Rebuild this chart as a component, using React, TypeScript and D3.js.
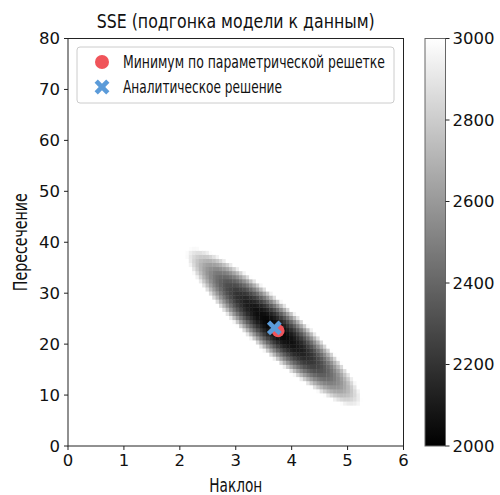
import React, { useMemo } from 'react';
import * as d3 from 'd3';

// ---- data ----
const SLOPE_DOMAIN = [0, 6];
const INTERCEPT_DOMAIN = [0, 80];
const GRID_SIZE = 100;
const X_TICKS = [0, 1, 2, 3, 4, 5, 6];
const Y_TICKS = [0, 10, 20, 30, 40, 50, 60, 70, 80];
const CBAR_TICKS = [2000, 2200, 2400, 2600, 2800, 3000];
const SSE_COLOR_RANGE = [2000, 3000];
// summary of the fitted dataset (defines the SSE surface)
const N_POINTS = 24;
const MEAN_X = 9.1;
const VAR_X = 16.2;
const SSE_MIN = 2020;
const ANALYTIC_SLOPE = 3.69;
const ANALYTIC_INTERCEPT = 23.2;
const LEGEND_LABELS = ['Минимум по параметрической решетке', 'Аналитическое решение'];
const TITLE = 'SSE (подгонка модели к данным)';
const X_LABEL = 'Наклон';
const Y_LABEL = 'Пересечение';

const W = 500;
const H = 495;
const PX0 = 68, PX1 = 403.5, PY0 = 38.5, PY1 = 446;
const CB_X0 = 425, CB_X1 = 445.5;
const RED = '#f0545a';
const BLUE = '#5b9bd9';
const CONDENSED = "'DejaVu Sans Condensed', 'Liberation Sans Narrow', sans-serif";
const TICKFONT = "'DejaVu Sans', sans-serif";

function sse(a: number, b: number) {
  const da = a - ANALYTIC_SLOPE;
  const db = b - ANALYTIC_INTERCEPT;
  const c = da * MEAN_X + db;
  return SSE_MIN + N_POINTS * (c * c + da * da * VAR_X);
}

const XMarker = ({ cx, cy }: { cx: number; cy: number }) => (
  <g transform={`translate(${cx},${cy})`} stroke={BLUE} strokeWidth={4.6}>
    <line x1={-5.8} y1={-5.8} x2={5.8} y2={5.8} />
    <line x1={-5.8} y1={5.8} x2={5.8} y2={-5.8} />
  </g>
);

export default function App() {
  const x = d3.scaleLinear().domain(SLOPE_DOMAIN).range([PX0, PX1]);
  const y = d3.scaleLinear().domain(INTERCEPT_DOMAIN).range([PY1, PY0]);
  const color = d3.scaleLinear<string>().domain(SSE_COLOR_RANGE).range(['#000000', '#ffffff']).clamp(true);
  const cb = d3.scaleLinear().domain(SSE_COLOR_RANGE).range([PY1, PY0]);

  const { cells, best } = useMemo(() => {
    const slopes = d3.range(GRID_SIZE).map(i => SLOPE_DOMAIN[0] + (i * (SLOPE_DOMAIN[1] - SLOPE_DOMAIN[0])) / (GRID_SIZE - 1));
    const ints = d3.range(GRID_SIZE).map(j => INTERCEPT_DOMAIN[0] + (j * (INTERCEPT_DOMAIN[1] - INTERCEPT_DOMAIN[0])) / (GRID_SIZE - 1));
    const cw = (SLOPE_DOMAIN[1] - SLOPE_DOMAIN[0]) / GRID_SIZE;
    const ch = (INTERCEPT_DOMAIN[1] - INTERCEPT_DOMAIN[0]) / GRID_SIZE;
    const out: { x0: number; x1: number; y0: number; y1: number; v: number }[] = [];
    let best = { v: Infinity, a: 0, b: 0 };
    slopes.forEach((a, i) => {
      ints.forEach((b, j) => {
        const v = sse(a, b);
        if (v < best.v) best = { v, a, b };
        out.push({ x0: SLOPE_DOMAIN[0] + i * cw, x1: SLOPE_DOMAIN[0] + (i + 1) * cw, y0: INTERCEPT_DOMAIN[0] + j * ch, y1: INTERCEPT_DOMAIN[0] + (j + 1) * ch, v });
      });
    });
    return { cells: out, best };
  }, []);

  return (
    <svg width={W} height={H} style={{ position: 'absolute', left: 0, top: 0, background: '#fff' }}>
      <defs>
        <linearGradient id="cbg" x1="0" y1="1" x2="0" y2="0">
          <stop offset="0" stopColor={color(SSE_COLOR_RANGE[0])} />
          <stop offset="1" stopColor={color(SSE_COLOR_RANGE[1])} />
        </linearGradient>
        <clipPath id="plotclip"><rect x={PX0} y={PY0} width={PX1 - PX0} height={PY1 - PY0} /></clipPath>
      </defs>
      <g clipPath="url(#plotclip)">
        {cells.map((c, k) => (
          <rect key={k} x={x(c.x0)} y={y(c.y1)} width={x(c.x1) - x(c.x0) + 0.4} height={y(c.y0) - y(c.y1) + 0.4} fill={color(c.v)} />
        ))}
      </g>
      {/* markers */}
      <circle cx={x(best.a)} cy={y(best.b)} r={6.5} fill={RED} />
      <XMarker cx={x(ANALYTIC_SLOPE)} cy={y(ANALYTIC_INTERCEPT)} />
      {/* frame */}
      <rect x={PX0} y={PY0} width={PX1 - PX0} height={PY1 - PY0} fill="none" stroke="#222" strokeWidth={1} />
      {/* x ticks */}
      {X_TICKS.map(t => (
        <g key={t}>
          <line x1={x(t)} x2={x(t)} y1={PY1} y2={PY1 + 4} stroke="#222" />
          <text x={x(t)} y={PY1 + 20} textAnchor="middle" fontFamily={TICKFONT} fontSize={16.5} fill="#111">{t}</text>
        </g>
      ))}
      {Y_TICKS.map(t => (
        <g key={t}>
          <line x1={PX0 - 4} x2={PX0} y1={y(t)} y2={y(t)} stroke="#222" />
          <text x={PX0 - 8} y={y(t)} dy="0.36em" textAnchor="end" fontFamily={TICKFONT} fontSize={16.5} fill="#111">{t}</text>
        </g>
      ))}
      <text x={(PX0 + PX1) / 2} y={491.5} textAnchor="middle" fontFamily={CONDENSED} fontSize={19} textLength={53} lengthAdjust="spacingAndGlyphs" fill="#111">{X_LABEL}</text>
      <text transform={`translate(26.5,${(PY0 + PY1) / 2}) rotate(-90)`} textAnchor="middle" fontFamily={CONDENSED} fontSize={19} textLength={98} lengthAdjust="spacingAndGlyphs" fill="#111">{Y_LABEL}</text>
      <text x={(PX0 + PX1) / 2} y={28} textAnchor="middle" fontFamily={CONDENSED} fontSize={19.5} textLength={278} lengthAdjust="spacingAndGlyphs" fill="#111">{TITLE}</text>
      {/* legend */}
      <rect x={77} y={47} width={317} height={56} rx={3} fill="#fff" fillOpacity={0.8} stroke="#ccc" />
      <circle cx={102} cy={62} r={7} fill={RED} />
      <XMarker cx={102} cy={87} />
      <text x={123} y={68.3} fontFamily={CONDENSED} fontSize={18} textLength={262} lengthAdjust="spacingAndGlyphs" fill="#111">{LEGEND_LABELS[0]}</text>
      <text x={123} y={93.3} fontFamily={CONDENSED} fontSize={18} textLength={159} lengthAdjust="spacingAndGlyphs" fill="#111">{LEGEND_LABELS[1]}</text>
      {/* colorbar */}
      <rect x={CB_X0} y={PY0} width={CB_X1 - CB_X0} height={PY1 - PY0} fill="url(#cbg)" stroke="#666" strokeWidth={1} />
      {CBAR_TICKS.map(t => (
        <g key={t}>
          <line x1={CB_X1} x2={CB_X1 + 4} y1={cb(t)} y2={cb(t)} stroke="#222" />
          <text x={CB_X1 + 7} y={cb(t)} dy="0.36em" fontFamily={TICKFONT} fontSize={16.5} fill="#111">{t}</text>
        </g>
      ))}
    </svg>
  );
}
